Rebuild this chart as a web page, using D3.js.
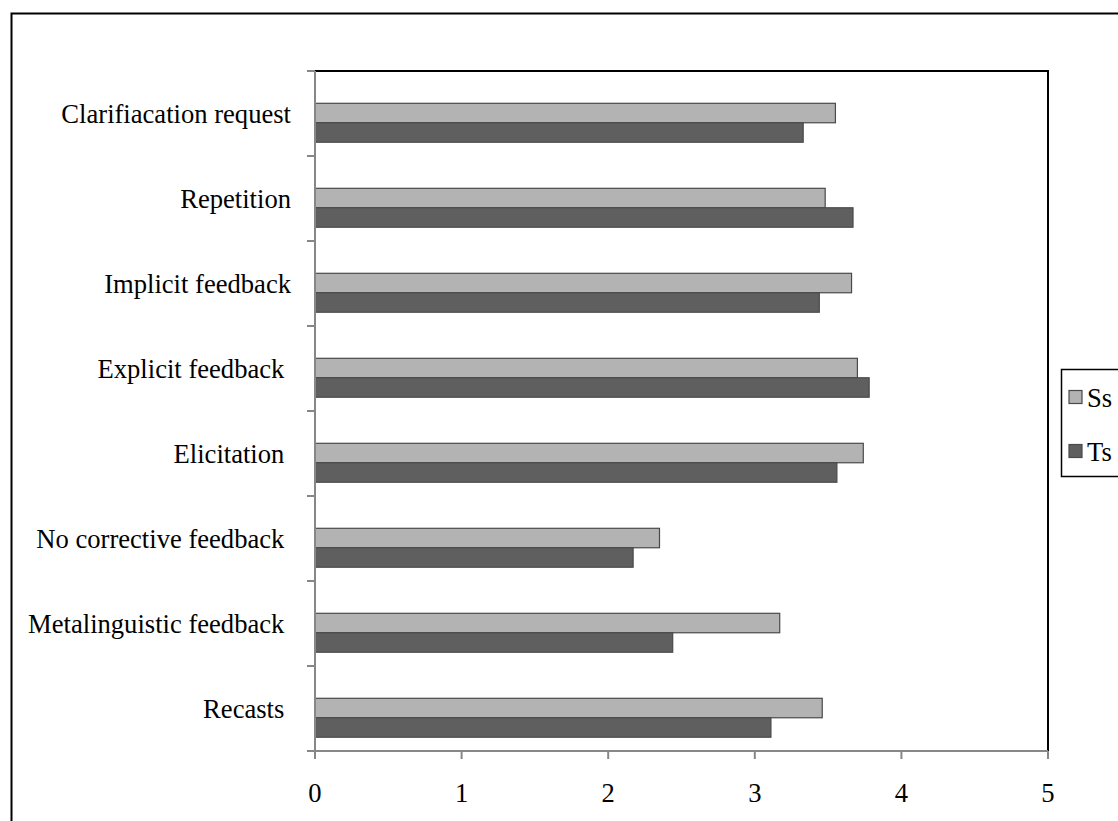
<!DOCTYPE html>
<html>
<head>
<meta charset="utf-8">
<script src="https://cdn.jsdelivr.net/npm/d3@7"></script>
<style>
  html, body { margin: 0; padding: 0; background: #fff; }
  svg { display: block; }
  text { font-family: "Liberation Serif", "Times New Roman", serif; fill: #000; }
</style>
</head>
<body>
<svg id="chart" width="1118" height="821"></svg>
<script>
// Feedback types (top to bottom) and mean ratings per group
const categories = [
  "Clarifiacation request",
  "Repetition",
  "Implicit feedback",
  "Explicit feedback ",
  "Elicitation ",
  "No corrective feedback ",
  "Metalinguistic feedback ",
  "Recasts "
];
const seriesNames = ["Ss", "Ts"];
const ssValues = [3.55, 3.48, 3.66, 3.70, 3.74, 2.35, 3.17, 3.46];
const tsValues = [3.33, 3.67, 3.44, 3.78, 3.56, 2.17, 2.44, 3.11];
const xTicks = [0, 1, 2, 3, 4, 5];

const fills = { Ss: "#b3b3b3", Ts: "#5f5f5f" };
const barStroke = "#4a4a4a";
const axisGrey = "#878787";
const fontSize = "26.6px";

const svg = d3.select("#chart");

// outer frame
svg.append("rect")
  .attr("x", 11.5).attr("y", 13.5)
  .attr("width", 1200).attr("height", 900)
  .attr("fill", "none").attr("stroke", "#000").attr("stroke-width", 2);

const plot = { left: 315, right: 1048, top: 71, bottom: 751 };

const x = d3.scaleLinear().domain([0, 5]).range([plot.left, plot.right]);
const y = d3.scaleBand().domain(categories).range([plot.top, plot.bottom]).paddingInner(0);
const bw = y.bandwidth();

// bar slots within each category band
const barH = bw * 0.229;
const barOffset = { Ss: bw * 0.38, Ts: bw * 0.38 + barH };

// plot frame: top and right edges
svg.append("path")
  .attr("d", `M${plot.left},${plot.top}H${plot.right}V${plot.bottom}`)
  .attr("fill", "none").attr("stroke", "#000").attr("stroke-width", 2);

const rows = categories.map((c, i) => ({ cat: c, Ss: ssValues[i], Ts: tsValues[i] }));

const g = svg.append("g");
seriesNames.forEach(s => {
  g.selectAll(null)
    .data(rows)
    .join("rect")
    .attr("x", x(0))
    .attr("y", d => y(d.cat) + barOffset[s])
    .attr("width", d => x(d[s]) - x(0))
    .attr("height", barH)
    .attr("fill", fills[s])
    .attr("stroke", barStroke)
    .attr("stroke-width", 1.2);
});

// category axis (left)
const yAxisG = svg.append("g");
yAxisG.append("line")
  .attr("x1", plot.left).attr("x2", plot.left)
  .attr("y1", plot.top).attr("y2", plot.bottom)
  .attr("stroke", axisGrey).attr("stroke-width", 2);
const boundaries = categories.map(c => y(c)).concat([plot.bottom]);
yAxisG.selectAll("line.tick")
  .data(boundaries)
  .join("line")
  .attr("class", "tick")
  .attr("x1", plot.left - 8).attr("x2", plot.left)
  .attr("y1", d => d).attr("y2", d => d)
  .attr("stroke", axisGrey).attr("stroke-width", 2);
yAxisG.selectAll("text")
  .data(categories)
  .join("text")
  .attr("x", 291)
  .attr("y", d => y(d) + bw / 2 + 9.5)
  .attr("text-anchor", "end")
  .attr("xml:space", "preserve")
  .style("white-space", "pre")
  .style("font-size", fontSize)
  .text(d => d);

// value axis (bottom)
const xAxisG = svg.append("g");
xAxisG.append("line")
  .attr("x1", plot.left - 8).attr("x2", plot.right)
  .attr("y1", plot.bottom).attr("y2", plot.bottom)
  .attr("stroke", axisGrey).attr("stroke-width", 2);
xAxisG.selectAll("line.tick")
  .data(xTicks)
  .join("line")
  .attr("class", "tick")
  .attr("x1", d => x(d)).attr("x2", d => x(d))
  .attr("y1", plot.bottom).attr("y2", plot.bottom + 8)
  .attr("stroke", axisGrey).attr("stroke-width", 2);
xAxisG.selectAll("text")
  .data(xTicks)
  .join("text")
  .attr("x", d => x(d))
  .attr("y", 802)
  .attr("text-anchor", "middle")
  .style("font-size", fontSize)
  .text(d => d);

// legend
const lg = svg.append("g");
lg.append("rect")
  .attr("x", 1061.5).attr("y", 369.5)
  .attr("width", 100).attr("height", 107)
  .attr("fill", "#fff").attr("stroke", "#000").attr("stroke-width", 1.5);
const legendY = d3.scalePoint().domain(seriesNames).range([397, 451]);
lg.selectAll("rect.sw")
  .data(seriesNames)
  .join("rect")
  .attr("class", "sw")
  .attr("x", 1069).attr("y", d => legendY(d) - 6.5)
  .attr("width", 13).attr("height", 13)
  .attr("fill", d => fills[d])
  .attr("stroke", barStroke).attr("stroke-width", 1.2);
lg.selectAll("text")
  .data(seriesNames)
  .join("text")
  .attr("x", 1087).attr("y", d => legendY(d) + 9.5)
  .style("font-size", fontSize)
  .text(d => d);
</script>
</body>
</html>
